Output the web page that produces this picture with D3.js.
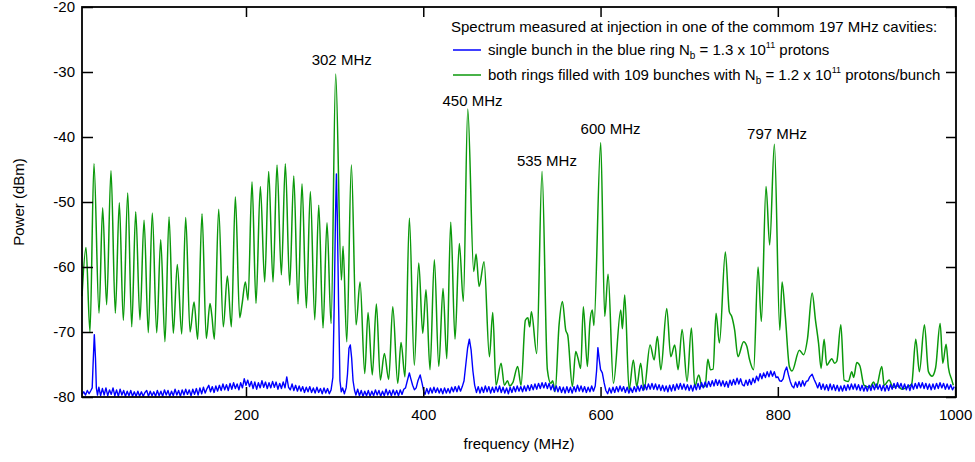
<!DOCTYPE html>
<html><head><meta charset="utf-8">
<script src="https://cdn.jsdelivr.net/npm/d3@7"></script>
<style>body{margin:0;background:#fff}svg text{font-family:"Liberation Sans",Arial,Helvetica,sans-serif;fill:#000}</style>
</head><body><svg id="chart" width="975" height="462"></svg>
<script>
const xTicks=[200,400,600,800,1000];
const yTicks=[-80,-70,-60,-50,-40,-30,-20];
const xTitle="frequency (MHz)";
const yTitle="Power (dBm)";
const legendTitle="Spectrum measured at injection in one of the commom 197 MHz cavities:";
const peakLabels=[["302 MHz",308,-28.9],["450 MHz",455.6,-35.2],["535 MHz",539.5,-44.5],["600 MHz",611.3,-39.5],["797 MHz",799.2,-40.3]];
// green: both rings filled with 109 bunches (frequency MHz, power dBm)
const greenSeries=[[15,-64.5],[19.5,-57.0],[24,-70.0],[28.5,-44.1],[34.2,-67.1],[38.3,-50.9],[42.8,-65.8],[47.7,-45.2],[52.6,-67.1],[57.1,-50.1],[61.6,-68.2],[66.6,-48.6],[71.1,-69.2],[75.6,-51.5],[80.4,-68.1],[85,-52.8],[89.8,-70.1],[94.3,-51.7],[99.3,-70.1],[103.8,-55.8],[108.6,-71.5],[113.2,-52.3],[118,-70.2],[122.5,-59.6],[127.5,-70.3],[132,-52.4],[136.9,-70.0],[141.4,-65.4],[145.5,-71.1],[150.4,-51.8],[155.2,-71.0],[159.4,-65.6],[161.5,-67.5],[164.3,-71.1],[169.2,-51.1],[174.4,-69.2],[179,-61.4],[183.5,-69.2],[188,-49.2],[192.9,-67.8],[195.5,-65.8],[199.3,-62.3],[202.3,-65.1],[206.8,-46.9],[211.3,-65.6],[216.2,-47.6],[221.1,-62.3],[225.6,-45.3],[230.5,-62.3],[235,-44.3],[239.9,-61.2],[244.4,-44.1],[249.3,-62.8],[253.9,-46.0],[258.7,-65.7],[263.2,-47.2],[268.1,-66.3],[272.6,-48.4],[277.6,-68.1],[282.1,-50.5],[286.9,-69.4],[291.4,-53.2],[296,-68.7],[301.2,-30.3],[307.6,-62.0],[309.5,-56.8],[313.7,-71.5],[318.9,-44.3],[324.2,-68.9],[328.7,-62.3],[334,-76.4],[337.7,-67.0],[342.5,-76.6],[347.1,-65.7],[351.6,-77.4],[356.1,-73.3],[361,-77.3],[365.6,-66.1],[371.2,-77.9],[374.9,-71.6],[379.4,-76.9],[384.3,-52.5],[389.9,-75.1],[394.9,-59.4],[399.4,-70.2],[403.1,-63.5],[407.6,-75.8],[412.5,-58.9],[417.5,-75.3],[422.3,-63.3],[426.5,-74.1],[431,-53.1],[435.8,-71.1],[440.7,-56.4],[445.2,-65.3],[450.2,-35.7],[456.9,-60.7],[459.6,-58.0],[463,-63],[468.6,-59.2],[474.6,-73.8],[478.4,-67.0],[482.1,-78.2],[487.8,-74.8],[491.5,-78.2],[495,-77.5],[497.5,-78.3],[501,-77.8],[506.5,-75.3],[510.3,-78.2],[515.2,-68.2],[518,-67.8],[520,-69.2],[522,-66.9],[528,-73.3],[534,-45.3],[540,-75.8],[543.8,-77.9],[546,-77.5],[548.7,-79.2],[553.2,-68.9],[557,-65.3],[560.7,-69.7],[563,-70.5],[568.2,-78.4],[572,-73.0],[574.5,-74],[577.6,-75.6],[580.6,-66.1],[585.1,-75.3],[588,-68.5],[590.7,-66.6],[592.5,-69],[600.2,-40.9],[604.7,-67.6],[608.5,-61.1],[614.5,-77.9],[622.8,-66.6],[624.6,-69.5],[627.3,-64.3],[632.2,-78.9],[637,-74.3],[640.8,-78.4],[645.3,-74.8],[649.1,-78.9],[655.9,-72.0],[660.5,-74.3],[664.1,-70.7],[668,-75.8],[674.7,-66.4],[679.2,-73.8],[683.7,-72.0],[687.5,-75.8],[692,-69.6],[697.6,-77.6],[702.5,-69.4],[706.3,-78.4],[710.8,-76.6],[714.5,-78.4],[718,-78.4],[721,-74.2],[724,-75.8],[727,-75.7],[730.3,-67.1],[734.1,-71.7],[740.8,-57.7],[745.3,-66.9],[748,-67.6],[751.3,-69.7],[755,-73.8],[761.4,-71.5],[765,-72.2],[768,-74.2],[772.7,-75.8],[777.7,-60.0],[781.4,-68.4],[786.7,-47.6],[790.8,-56.6],[796.1,-41.1],[802.2,-69.7],[804.8,-62.3],[808.5,-67.7],[813,-75.3],[816,-76],[824.3,-72.8],[829,-73.5],[833.5,-71.0],[838.7,-64.0],[842.5,-68.2],[846,-71.8],[848.8,-75.6],[852.2,-71.1],[855.2,-75.1],[860.9,-74.1],[864,-74.8],[866.5,-74.5],[871.1,-68.9],[874.8,-77.4],[879.5,-77.6],[883.5,-76.1],[885.5,-77.0],[889.1,-74.7],[892.5,-75.2],[897.3,-78.2],[904,-78.5],[908,-77.7],[911,-78.5],[917.3,-75.3],[920,-78.2],[925.5,-77.4],[930,-78.5],[935,-78.3],[940,-78.8],[947,-78.4],[951,-78.0],[955.6,-71.1],[959.7,-76.1],[965.4,-68.9],[969.9,-76.1],[974,-76.8],[978,-75.5],[983.1,-68.7],[986.1,-74.8],[989.8,-71.9],[992.5,-75.5],[996.3,-77.4],[998,-78.2]];
// blue: single bunch in the blue ring
const blueSeries=[[15,-79.6],[17,-79.2],[19,-79.7],[21,-79.0],[23,-79.5],[25,-79.0],[26.5,-78.6],[27.5,-75],[28.9,-70.4],[30.2,-74],[31.2,-78.6],[32.5,-79.7],[34,-78.5],[36,-79.8],[38,-78.7],[40,-79.7],[42,-78.6],[44,-79.8],[46,-78.9],[48,-79.6],[50,-78.6],[52,-79.8],[54,-78.9],[56,-79.9],[58,-78.8],[60,-79.7],[62,-79.0],[64,-79.9],[66,-79.1],[68,-79.8],[70,-79.0],[72,-79.9],[74,-79.2],[76,-79.9],[78,-79.1],[80,-79.9],[82,-79.2],[84,-79.9],[86,-79.3],[88,-79.0],[90,-79.9],[92,-79.1],[94,-79.8],[96,-79.2],[98,-79.9],[100,-79.0],[102,-79.8],[104,-79.1],[106,-79.9],[108,-78.9],[110,-79.7],[112,-79.0],[114,-79.9],[116,-79.1],[118,-79.8],[120,-78.8],[122,-79.7],[124,-79.0],[126,-79.9],[128,-78.9],[130,-79.7],[132,-78.8],[134,-79.6],[136,-78.9],[138,-79.8],[140,-78.8],[142,-79.6],[144,-78.7],[146,-79.7],[148,-78.6],[150,-79.5],[152,-78.5],[154,-79.4],[156,-78.7],[158,-78.2],[160,-79.2],[162,-78.4],[164,-79.3],[166,-78.3],[168,-79.1],[170,-78.2],[172,-79.0],[174,-78.0],[176,-78.9],[178,-78.1],[180,-79.0],[182,-77.9],[184,-78.8],[186,-77.8],[188,-78.7],[190,-78.0],[192,-78.9],[194,-77.8],[196,-78.6],[198,-77.2],[200,-78.2],[202,-77.4],[204,-78.4],[206,-77.6],[208,-78.7],[210,-77.7],[212,-78.8],[214,-77.8],[216,-78.6],[218,-77.5],[220,-78.5],[222,-77.7],[224,-78.7],[226,-77.8],[228,-78.6],[230,-77.6],[232,-78.5],[234,-77.7],[236,-78.8],[238,-77.9],[240,-78.7],[242,-77.7],[244,-78.6],[246,-76.9],[248,-78.5],[250,-78.9],[252,-78.0],[254,-79.0],[256,-78.2],[258,-79.1],[260,-78.3],[262,-79.1],[264,-78.4],[266,-79.3],[268,-78.5],[270,-79.2],[272,-78.4],[274,-79.3],[276,-78.6],[278,-79.4],[280,-78.5],[282,-79.3],[284,-78.7],[286,-79.5],[288,-78.6],[290,-79.4],[292,-78.7],[294,-79.5],[296,-78.9],[298,-77],[299.5,-66],[301,-52],[302,-45.7],[303,-52],[304.5,-66],[306,-77.5],[307.5,-79.2],[309,-78.6],[311,-79.5],[313,-78.6],[314.5,-76.5],[316.2,-72.5],[317.7,-72.0],[319.2,-74],[320.8,-77.5],[322.5,-79.0],[324,-79.7],[326,-78.8],[328,-79.8],[330,-79.0],[332,-79.9],[334,-79.1],[336,-79.8],[338,-79.0],[340,-79.9],[342,-79.1],[344,-79.8],[346,-78.9],[348,-79.7],[350,-79.0],[352,-79.9],[354,-79.1],[356,-79.8],[358,-78.8],[360,-79.7],[362,-79.0],[364,-79.8],[366,-78.9],[368,-79.7],[370,-79.0],[372,-79.8],[374,-78.9],[376,-79.6],[378,-78.8],[380,-78.6],[382,-77.5],[384.3,-76.3],[386,-77.2],[388,-78.2],[390,-78.9],[392,-78.6],[394,-77.5],[396.5,-76.6],[398.5,-77.8],[400.5,-79.1],[402,-79.6],[404,-78.7],[406,-79.5],[408,-78.6],[410,-79.4],[412,-78.5],[414,-79.3],[416,-78.6],[418,-79.4],[420,-78.7],[422,-79.5],[424,-78.6],[426,-79.4],[428,-78.7],[430,-79.4],[432,-78.5],[434,-79.2],[436,-78.4],[438,-79.2],[440,-78.3],[442,-79.1],[444,-78.4],[446,-77.5],[448,-75],[450,-72.5],[452,-71.1],[454,-72.8],[456,-76],[458,-78.2],[460,-79.3],[462,-78.4],[464,-79.4],[466,-78.5],[468,-79.3],[470,-78.3],[472,-79.2],[474,-78.4],[476,-79.4],[478,-78.5],[480,-79.3],[482,-78.4],[484,-79.2],[486,-78.3],[488,-79.3],[490,-78.5],[492,-79.4],[494,-78.6],[496,-79.5],[498,-78.5],[500,-79.3],[502,-78.4],[504,-79.2],[506,-78.3],[508,-79.1],[510,-78.4],[512,-79.2],[514,-78.3],[516,-79.1],[518,-78.2],[520,-79.0],[522,-78.1],[524,-78.9],[526,-78.0],[528,-78.8],[530,-77.9],[532,-78.7],[534,-77.8],[536,-78.6],[538,-77.8],[540,-78.7],[542,-77.9],[544,-78.9],[546,-78.1],[548,-79.1],[550,-78.3],[552,-79.2],[554,-78.4],[556,-79.3],[558,-78.5],[560,-79.4],[562,-78.4],[564,-79.3],[566,-78.5],[568,-79.4],[570,-78.4],[572,-79.2],[574,-78.2],[576,-79.1],[578,-78.3],[580,-79.2],[582,-78.4],[584,-79.3],[586,-78.5],[588,-79.2],[590,-78.3],[592,-79.1],[594,-78.3],[595.5,-76],[597,-72.4],[598.5,-74.2],[600,-75.8],[602,-76.3],[604,-77.8],[606,-79.0],[608,-79.5],[610,-78.6],[612,-79.4],[614,-78.5],[616,-79.3],[618,-78.4],[620,-79.2],[622,-78.3],[624,-79.1],[626,-78.4],[628,-79.3],[630,-78.5],[632,-79.4],[634,-78.6],[636,-79.3],[638,-78.4],[640,-79.2],[642,-78.3],[644,-79.1],[646,-78.2],[648,-79.0],[650,-78.1],[652,-78.9],[654,-78.0],[656,-78.8],[658,-77.9],[660,-78.8],[662,-78.0],[664,-78.9],[666,-78.1],[668,-79.0],[670,-78.2],[672,-79.1],[674,-78.3],[676,-79.2],[678,-78.2],[680,-79.1],[682,-78.1],[684,-79.0],[686,-78.0],[688,-78.8],[690,-77.9],[692,-78.8],[694,-78.0],[696,-78.9],[698,-78.1],[700,-79.0],[702,-78.2],[704,-79.1],[706,-78.1],[708,-78.9],[710,-77.9],[712,-78.8],[714,-77.8],[716,-78.6],[718,-77.7],[720,-78.5],[722,-77.6],[724,-78.4],[726,-77.5],[728,-78.3],[730,-77.3],[732,-78.2],[734,-77.4],[736,-78.3],[738,-77.5],[740,-78.4],[742,-77.6],[744,-78.5],[746,-77.4],[748,-78.2],[750,-77.3],[752,-78.1],[754,-77.1],[756,-78.0],[758,-77.2],[760,-78.1],[762,-78.3],[764,-77.4],[766,-78.2],[768,-77.3],[770,-78.1],[772,-77.1],[774,-77.8],[776,-76.8],[778,-77.5],[780,-76.4],[782,-77.2],[784,-76.3],[786,-77.0],[788,-76.1],[790,-76.9],[792,-76.0],[794,-76.8],[796,-76.1],[798,-77.0],[800,-76.9],[802,-77.5],[804,-77.6],[806,-77.2],[808,-76.0],[810,-75.4],[812,-76.6],[814,-77.6],[816,-78.3],[818,-78.6],[820,-77.7],[822,-78.5],[824,-77.6],[826,-78.4],[828,-77.5],[830,-78.3],[832,-77.6],[834,-77.5],[836,-76.9],[838.7,-76.5],[841,-77.3],[843,-77.9],[845,-78.6],[847,-77.8],[849,-78.8],[851,-78.0],[853,-78.9],[855,-78.1],[857,-79.0],[859,-78.0],[861,-78.9],[863,-78.1],[865,-79.0],[867,-78.2],[869,-79.1],[871,-78.3],[873,-79.1],[875,-78.2],[877,-79.0],[879,-78.1],[881,-78.9],[883,-78.0],[885,-78.8],[887,-78.0],[889,-78.9],[891,-78.1],[893,-79.0],[895,-78.2],[897,-79.1],[899,-78.3],[901,-79.1],[903,-78.2],[905,-79.0],[907,-78.1],[909,-78.9],[911,-78.0],[913,-78.8],[915,-78.1],[917,-79.0],[919,-78.2],[921,-79.1],[923,-78.2],[925,-79.0],[927,-78.1],[929,-78.8],[931,-77.9],[933,-78.7],[935,-77.8],[937,-78.6],[939,-77.9],[941,-78.8],[943,-78.0],[945,-78.9],[947,-78.1],[949,-79.0],[951,-78.0],[953,-78.8],[955,-77.9],[957,-78.7],[959,-77.8],[961,-78.6],[963,-77.8],[965,-78.7],[967,-77.9],[969,-78.8],[971,-78.0],[973,-78.9],[975,-78.0],[977,-78.8],[979,-77.9],[981,-78.7],[983,-77.8],[985,-78.6],[987,-77.9],[989,-78.8],[991,-78.0],[993,-78.8],[995,-78.1],[997,-78.9],[999,-78.4]];

const svg=d3.select("#chart");
const L=82,R=956,T=7,B=397;
const x=d3.scaleLinear().domain([15,1001]).range([L,R]);
const y=d3.scaleLinear().domain([-80,-20]).range([B,T]);
const GREEN="#0b990b",BLUE="#0000ff";
const FS=15;

svg.append("path").datum(greenSeries).attr("fill","none").attr("stroke",GREEN).attr("stroke-width",1.5)
  .attr("stroke-linejoin","round").attr("d",d3.line().x(d=>x(d[0])).y(d=>y(d[1])).curve(d3.curveMonotoneX));
svg.append("path").datum(blueSeries).attr("fill","none").attr("stroke",BLUE).attr("stroke-width",1.4)
  .attr("stroke-linejoin","round").attr("d",d3.line().x(d=>x(d[0])).y(d=>y(d[1])));

function styleAxis(g){g.select(".domain").remove();g.selectAll(".tick line").attr("stroke","#000").attr("stroke-width",1.5);
  g.selectAll(".tick text").attr("font-size",FS).attr("fill","#000").attr("font-family","'Liberation Sans',Arial,sans-serif");}
svg.append("g").attr("transform",`translate(0,${B})`).call(d3.axisBottom(x).tickValues(xTicks).tickSize(-10).tickPadding(12).tickFormat(d3.format("d"))).call(styleAxis);
svg.append("g").attr("transform",`translate(0,${T})`).call(d3.axisTop(x).tickValues(xTicks).tickSize(-10).tickFormat("")).call(styleAxis);
svg.append("g").attr("transform",`translate(${L},0)`).call(d3.axisLeft(y).tickValues(yTicks).tickSize(-11).tickPadding(7).tickFormat(d=>String(d))).call(styleAxis);
svg.append("g").attr("transform",`translate(${R},0)`).call(d3.axisRight(y).tickValues(yTicks).tickSize(-10).tickFormat("")).call(styleAxis);
svg.append("rect").attr("x",L).attr("y",T).attr("width",R-L).attr("height",B-T).attr("fill","none").attr("stroke","#000").attr("stroke-width",1.8);

svg.append("text").attr("x",(L+R)/2).attr("y",449).attr("text-anchor","middle").attr("font-size",FS).text(xTitle);
svg.append("text").attr("transform",`translate(24,${(T+B)/2}) rotate(-90)`).attr("text-anchor","middle").attr("font-size",FS).text(yTitle);

svg.selectAll(".plab").data(peakLabels).join("text").attr("class","plab")
  .attr("x",d=>x(d[1])).attr("y",d=>y(d[2])).attr("text-anchor","middle").attr("font-size",FS).text(d=>d[0]);

const lg=svg.append("g");
lg.append("text").attr("x",451).attr("y",32).attr("font-size",FS).text(legendTitle);
const rows=[{c:BLUE,y:50,a:"single bunch in the blue ring N",b:" = 1.3 x 10",c2:" protons"},
            {c:GREEN,y:75,a:"both rings filled with 109 bunches with N",b:" = 1.2 x 10",c2:" protons/bunch"}];
rows.forEach(r=>{
  lg.append("line").attr("x1",453).attr("x2",481).attr("y1",r.y).attr("y2",r.y).attr("stroke",r.c).attr("stroke-width",1.5);
  const t=lg.append("text").attr("x",488).attr("y",r.y+5).attr("font-size",FS);
  t.append("tspan").text(r.a);
  t.append("tspan").attr("dy",4).attr("font-size",10).text("b");
  t.append("tspan").attr("dy",-4).text(r.b);
  t.append("tspan").attr("dy",-7).attr("font-size",9).text("11");
  t.append("tspan").attr("dy",7).text(r.c2);
});
</script></body></html>
